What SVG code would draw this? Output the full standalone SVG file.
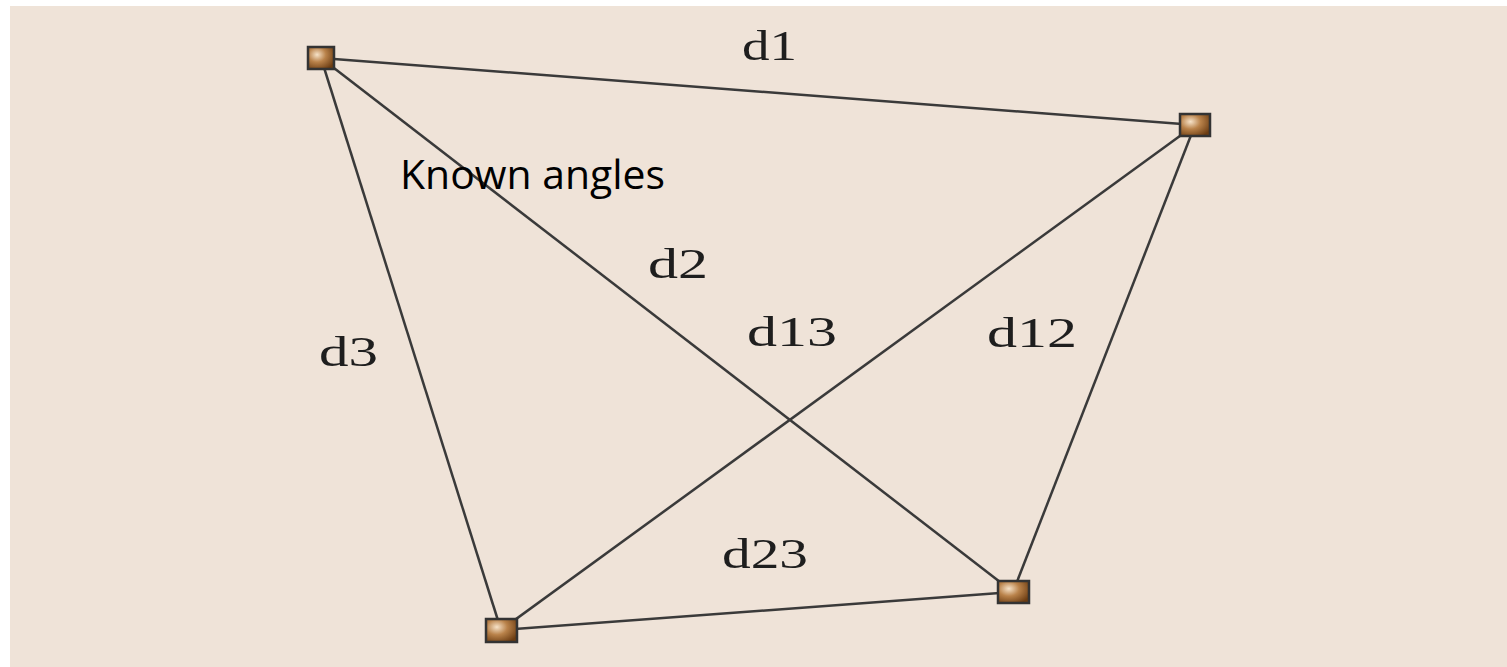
<svg xmlns="http://www.w3.org/2000/svg" width="1507" height="667" viewBox="0 0 1507 667">
<defs>
<radialGradient id="g" cx="0.35" cy="0.35" r="0.75">
<stop offset="0" stop-color="#f6e2c8"/>
<stop offset="0.45" stop-color="#b9824a"/>
<stop offset="1" stop-color="#6b3c12"/>
</radialGradient>
</defs>
<style>
.bg{fill:#efe3d8}
.edge{stroke:#3a3a3a;stroke-width:2.5;fill:none}
.node{fill:url(#g);stroke:#333;stroke-width:2.5}
.lbl{font-family:"Liberation Serif","Times New Roman",serif;font-size:42px;fill:#1e1e1e}
.note{font-family:"Open Sans","Liberation Sans",sans-serif;font-size:40px;fill:#000}
</style>
<rect x="0" y="0" width="1507" height="667" fill="#ffffff"/>
<rect class="bg" x="10" y="6" width="1497" height="661"/>
<g id="connectors">
<line class="edge" x1="321" y1="58" x2="1195" y2="125"/>
<line class="edge" x1="321" y1="58" x2="1013" y2="592"/>
<line class="edge" x1="321" y1="58" x2="501" y2="630"/>
<line class="edge" x1="1195" y1="125" x2="501" y2="630"/>
<line class="edge" x1="1195" y1="125" x2="1013" y2="592"/>
<line class="edge" x1="501" y1="630" x2="1013" y2="592"/>
</g>
<g id="node1"><rect class="node" x="308" y="47" width="26" height="22"/></g>
<g id="node2"><rect class="node" x="1180" y="114" width="30" height="22"/></g>
<g id="node3"><rect class="node" x="486" y="619" width="31" height="23"/></g>
<g id="node4"><rect class="node" x="998" y="581" width="31" height="22"/></g>
<g id="labels">
<text class="lbl" x="742" y="60" textLength="55" lengthAdjust="spacingAndGlyphs">d1</text>
<text class="lbl" x="648" y="278" textLength="60" lengthAdjust="spacingAndGlyphs">d2</text>
<text class="lbl" x="747" y="346" textLength="90" lengthAdjust="spacingAndGlyphs">d13</text>
<text class="lbl" x="987" y="347" textLength="90" lengthAdjust="spacingAndGlyphs">d12</text>
<text class="lbl" x="319" y="366" textLength="59" lengthAdjust="spacingAndGlyphs">d3</text>
<text class="lbl" x="722" y="568" textLength="86" lengthAdjust="spacingAndGlyphs">d23</text>
<text class="note" x="400" y="189" textLength="265" lengthAdjust="spacingAndGlyphs">Known angles</text>
</g>
</svg>
